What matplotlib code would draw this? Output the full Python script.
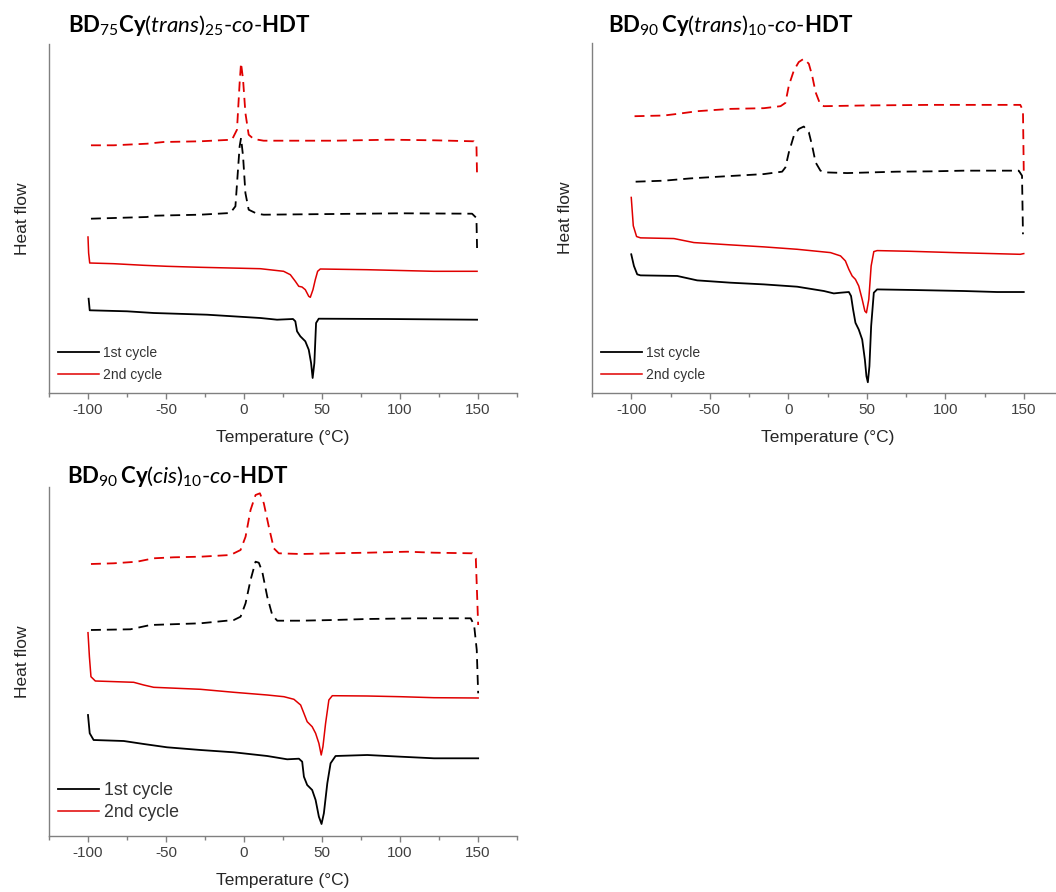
import matplotlib
matplotlib.use("Agg")
import matplotlib.pyplot as plt
from matplotlib.ticker import MultipleLocator, NullLocator

plt.rcParams["font.family"] = ["Liberation Sans", "DejaVu Sans"]
plt.rcParams["axes.unicode_minus"] = False
plt.rcParams["mathtext.fontset"] = "custom"
plt.rcParams["mathtext.rm"] = "Lato"
plt.rcParams["mathtext.it"] = "Lato:italic"
plt.rcParams["mathtext.bf"] = "Lato:bold"

# ---- Data (heat flow in arbitrary units, curves offset as in the figure) ----
# Panel 1: BD75 Cy(trans)25-co-HDT
p1_heat1_T = [-99.6, -98.9, -75, -57.9, -23.7, 10.5, 21.2, 31.4, 32.9, 34.0, 36.1, 39.3,
              41.5, 43.0, 44.0, 45.1, 46.2, 47.9, 91.7, 149.4]
p1_heat1_hf = [9.43, 8.27, 8.17, 8.0, 7.83, 7.5, 7.33, 7.4, 7.17, 6.17, 5.67, 5.17,
               4.33, 3.0, 1.5, 3.0, 7.0, 7.43, 7.4, 7.33]
p1_heat2_T = [-100, -99.6, -98.9, -83.5, -64.3, -49.4, -28.0, 10.5, 25.4, 29.7, 32.9, 35.1,
              37.2, 39.3, 41.5, 42.5, 44.2, 45.7, 47.2, 48.9, 78.9, 121.6, 149.4]
p1_heat2_hf = [15.6, 14.0, 13.0, 12.93, 12.77, 12.67, 12.57, 12.43, 12.17, 11.83, 11.17, 10.67,
               10.6, 10.33, 9.67, 9.57, 10.33, 11.33, 12.17, 12.4, 12.33, 12.17, 12.17]
p1_cool1_T = [-98.1, -62.2, -57.9, -28.0, -8.8, -5.5, -4.0, -2.8, -1.9, -0.6, 0.9, 3.0,
              8.3, 12.6, 57.5, 100.2, 146.2, 149.0, 149.4]
p1_cool1_hf = [17.43, 17.6, 17.73, 17.83, 18.0, 18.67, 22.0, 24.67, 25.5, 23.67, 20.0, 18.33,
               17.93, 17.83, 17.9, 17.97, 17.93, 17.5, 14.5]
p1_cool2_T = [-98.1, -83.5, -62.2, -51.5, -28.0, -7.7, -4.5, -2.8, -1.9, -0.6, 0.9, 3.0,
              6.2, 12.6, 57.5, 93.8, 121.6, 147.3, 149.0, 149.4]
p1_cool2_hf = [24.77, 24.77, 24.93, 25.1, 25.17, 25.33, 26.33, 31.0, 33.0, 31.33, 28.0, 25.83,
               25.4, 25.23, 25.23, 25.33, 25.27, 25.17, 24.83, 21.67]

# Panel 2: BD90 Cy(trans)10-co-HDT
p2_heat1_T = [-100, -98.3, -96.2, -94.1, -70.7, -58.0, -36.8, -15.5, 5.7, 22.7, 29.0, 33.3,
              38.6, 40.0, 41.3, 42.8, 44.9, 47.1, 48.8, 49.8, 50.7, 51.7, 52.8, 54.5, 56.6,
              79.9, 111.8, 133.0, 150.0]
p2_heat1_hf = [13.83, 12.67, 11.83, 11.73, 11.67, 11.23, 11.0, 10.83, 10.6, 10.17, 9.93, 10.0,
               10.07, 9.67, 8.33, 7.0, 6.33, 5.33, 3.33, 1.67, 1.07, 2.67, 6.67, 10.0, 10.33,
               10.27, 10.17, 10.07, 10.07]
p2_heat2_T = [-100, -98.7, -96.6, -94.1, -72.8, -60.1, -36.8, -15.5, 5.7, 26.9, 33.3, 36.4,
              38.6, 40.7, 42.8, 44.9, 47.1, 48.8, 49.8, 51.3, 52.8, 54.5, 56.6, 77.8, 105.4,
              147.8, 150.0]
p2_heat2_hf = [19.5, 16.67, 15.6, 15.47, 15.4, 15.0, 14.77, 14.57, 14.33, 14.0, 13.67, 13.17,
               12.33, 11.67, 11.33, 10.67, 9.33, 8.17, 8.0, 9.33, 12.67, 14.1, 14.2, 14.13, 14.0,
               13.83, 13.9]
p2_cool1_T = [-97.2, -79.2, -62.2, -41.0, -15.5, -3.9, -1.8, 0.4, 3.6, 6.7, 9.9, 13.1,
              15.2, 17.4, 20.5, 23.7, 37.5, 69.3, 90.6, 111.8, 146.8, 148.9, 149.5]
p2_cool1_hf = [21.07, 21.17, 21.4, 21.6, 21.83, 22.07, 22.5, 24.0, 25.67, 26.33, 26.57, 26.0,
               24.67, 23.0, 22.17, 22.0, 21.93, 22.07, 22.1, 22.17, 22.17, 21.67, 15.83]
p2_cool2_T = [-97.9, -79.2, -70.7, -58.0, -36.8, -15.5, -4.9, -1.8, 0.4, 3.6, 6.7, 9.9,
              13.1, 15.2, 17.4, 20.5, 22.7, 48.1, 90.6, 147.8, 149.5, 150.0]
p2_cool2_hf = [27.6, 27.67, 27.83, 28.1, 28.33, 28.4, 28.6, 28.93, 30.67, 32.17, 33.0, 33.33,
               32.83, 31.67, 30.0, 28.73, 28.6, 28.67, 28.73, 28.73, 28.17, 22.17]

# Panel 3: BD90 Cy(cis)10-co-HDT
p3_heat1_T = [-100, -98.9, -96.4, -77.1, -64.3, -49.3, -27.9, -6.5, 14.9, 27.7, 35.2, 37.3,
              38.4, 40.5, 43.7, 45.9, 48.0, 49.7, 51.2, 53.4, 55.5, 58.7, 79.0, 100.4, 121.8,
              150.1]
p3_heat1_hf = [12.1, 10.27, 9.6, 9.5, 9.2, 8.87, 8.6, 8.37, 8.0, 7.67, 7.73, 7.43,
               5.93, 5.1, 4.6, 3.6, 1.93, 1.2, 2.27, 5.27, 7.27, 8.0, 8.1, 7.93, 7.77, 7.77]
p3_heat2_T = [-100, -99.1, -98.1, -95.3, -70.7, -64.3, -57.9, -27.9, -6.5, 14.9, 25.6, 32.0,
              36.3, 38.4, 40.5, 43.7, 45.9, 48.0, 49.5, 50.6, 52.3, 54.4, 56.6, 79.0, 100.4,
              121.8, 150.1]
p3_heat2_hf = [20.33, 17.93, 15.93, 15.5, 15.37, 15.1, 14.87, 14.67, 14.37, 14.1, 13.93, 13.67,
               13.1, 12.27, 11.43, 10.93, 10.27, 9.27, 8.1, 8.93, 11.27, 13.6, 14.03, 14.0, 13.93,
               13.83, 13.8]
p3_cool1_T = [-98.1, -72.8, -60.0, -27.9, -6.5, -2.2, 1.0, 4.2, 7.4, 9.5, 11.7, 14.9,
              18.1, 21.3, 36.3, 57.6, 79.0, 111.1, 145.3, 147.5, 149.2, 150.1]
p3_cool1_hf = [20.6, 20.67, 21.1, 21.27, 21.6, 21.93, 23.27, 25.6, 27.43, 27.33, 26.43, 23.93,
               22.1, 21.53, 21.53, 21.6, 21.7, 21.77, 21.77, 21.1, 18.6, 14.27]
p3_cool2_T = [-98.1, -83.5, -68.6, -57.9, -45.0, -27.9, -8.7, -2.2, 1.0, 4.2, 7.4, 10.2,
              12.7, 15.9, 19.1, 22.3, 36.3, 57.6, 79.0, 104.7, 121.8, 146.4, 148.6, 150.1]
p3_cool2_hf = [27.2, 27.27, 27.43, 27.77, 27.87, 27.93, 28.1, 28.6, 29.93, 32.6, 34.1, 34.27,
               33.27, 30.93, 28.77, 28.27, 28.2, 28.27, 28.33, 28.43, 28.33, 28.27, 27.77, 21.1]

titles = [
    r"$\mathbf{BD}_{75}\mathbf{Cy}(\mathit{trans})_{25}\text{-}\mathit{co}\text{-}\mathbf{HDT}$",
    r"$\mathbf{BD}_{90}\,\mathbf{Cy}(\mathit{trans})_{10}\text{-}\mathit{co}\text{-}\mathbf{HDT}$",
    r"$\mathbf{BD}_{90}\,\mathbf{Cy}(\mathit{cis})_{10}\text{-}\mathit{co}\text{-}\mathbf{HDT}$",
]
legend_labels = ["1st cycle", "2nd cycle"]

RED = "#e00000"
W, H = 1056, 892

fig = plt.figure(figsize=(W / 100, H / 100), dpi=100)


def px_axes(left, top, right, bottom):
    return fig.add_axes([left / W, 1 - bottom / H, (right - left) / W, (bottom - top) / H])


def draw_panel(ax, heat1, heat2, cool1, cool2, leg_size, leg_len, leg_space, leg_y):
    l1, = ax.plot(*heat1, color="black", lw=1.3)
    l2, = ax.plot(*heat2, color=RED, lw=1.1)
    ax.plot(*cool1, color="black", lw=1.3, dashes=(5.5, 3.3))
    ax.plot(*cool2, color=RED, lw=1.3, dashes=(5.5, 3.3))

    ax.set_xlim(-125, 175)
    ax.set_ylim(0, 34.9)
    ax.xaxis.set_major_locator(MultipleLocator(50))
    ax.xaxis.set_minor_locator(MultipleLocator(25))
    ax.yaxis.set_major_locator(NullLocator())
    ax.tick_params(axis="x", which="major", length=4, width=1, color="#808080",
                   labelsize=11, labelcolor="#404040", pad=3)
    ax.tick_params(axis="x", which="minor", length=3, width=1, color="#808080")
    for s in ["top", "right"]:
        ax.spines[s].set_visible(False)
    for s in ["left", "bottom"]:
        ax.spines[s].set_color("#808080")
        ax.spines[s].set_linewidth(1)

    ax.set_xlabel("Temperature (°C)", fontsize=12.5, color="#262626")
    ax.set_ylabel("Heat flow", fontsize=12.5, color="#262626")
    ax.xaxis.set_label_coords(0.5, -0.105)
    ax.yaxis.set_label_coords(-0.04, 0.5)

    ax.legend([l1, l2], legend_labels, loc="upper left", bbox_to_anchor=(0.019, leg_y),
              frameon=False, fontsize=leg_size, handlelength=leg_len, handletextpad=0.3,
              labelspacing=leg_space, borderpad=0, borderaxespad=0, labelcolor="#333333")


ax1 = px_axes(49, 44, 517, 393)
draw_panel(ax1, (p1_heat1_T, p1_heat1_hf), (p1_heat2_T, p1_heat2_hf),
           (p1_cool1_T, p1_cool1_hf), (p1_cool2_T, p1_cool2_hf), 10, 2.95, 0.58, 0.135)

ax2 = px_axes(592, 43, 1063, 393)
draw_panel(ax2, (p2_heat1_T, p2_heat1_hf), (p2_heat2_T, p2_heat2_hf),
           (p2_cool1_T, p2_cool1_hf), (p2_cool2_T, p2_cool2_hf), 10, 2.95, 0.58, 0.135)

ax3 = px_axes(49, 487, 517, 836)
draw_panel(ax3, (p3_heat1_T, p3_heat1_hf), (p3_heat2_T, p3_heat2_hf),
           (p3_cool1_T, p3_cool1_hf), (p3_cool2_T, p3_cool2_hf), 12.8, 2.3, 0.28, 0.155)

# Panel titles
fig.text(68 / W, 1 - 32 / H, titles[0], fontsize=16, va="baseline", ha="left")
fig.text(608 / W, 1 - 32 / H, titles[1], fontsize=16, va="baseline", ha="left")
fig.text(67 / W, 1 - 483 / H, titles[2], fontsize=16, va="baseline", ha="left")

fig.savefig("out.png", dpi=100)
